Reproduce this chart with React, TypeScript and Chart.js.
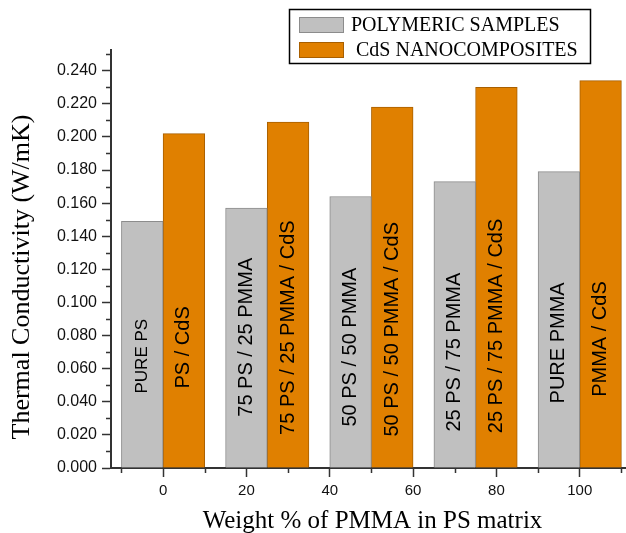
import React, { useEffect, useRef } from "react";
import { Chart, registerables } from "chart.js";

Chart.register(...registerables);

// ---- data ----
const groupPositions = [0, 25, 50, 75, 100];
const polymericValues = [0.149, 0.157, 0.164, 0.173, 0.179];
const cdsValues = [0.202, 0.209, 0.218, 0.23, 0.234];
const polymericLabels = ["PURE PS", "75 PS / 25 PMMA", "50 PS / 50 PMMA", "25 PS / 75 PMMA", "PURE PMMA"];
const cdsLabels = ["PS / CdS", "75 PS / 25 PMMA / CdS", "50 PS / 50 PMMA / CdS", "25 PS / 75 PMMA / CdS", "PMMA / CdS"];
const seriesNames = ["POLYMERIC SAMPLES", "CdS NANOCOMPOSITES"];
const xTickValues = [0, 20, 40, 60, 80, 100];
const yTickValues = [0, 0.02, 0.04, 0.06, 0.08, 0.1, 0.12, 0.14, 0.16, 0.18, 0.2, 0.22, 0.24];
const xTitle = "Weight % of PMMA in PS matrix";
const yTitle = "Thermal Conductivity (W/mK)";

// ---- styles ----
const GRAY = "#c0c0c0";
const ORANGE = "#e08000";
const AXIS = "#333333";
const SANS = "'Liberation Sans', Arial, sans-serif";
const SERIF = "'Liberation Serif', 'Times New Roman', serif";

// label placement (where the rotated text begins, in axis value units) and font sizes
const labelStyle = [
  { starts: [0.045, 0.031, 0.025, 0.022, 0.039], sizes: [17, 20, 20, 20, 20] },
  { starts: [0.048, 0.02, 0.019, 0.021, 0.043], sizes: [20, 20, 20, 20, 20] },
];

const decorPlugin = {
  id: "decor",
  afterDatasetsDraw(chart: any) {
    const ctx = chart.ctx;
    const yS = chart.scales.y;
    ctx.save();
    ctx.fillStyle = "#000";
    ctx.textAlign = "left";
    ctx.textBaseline = "middle";
    chart.data.datasets.forEach((ds: any, di: number) => {
      const meta = chart.getDatasetMeta(di);
      meta.data.forEach((el: any, i: number) => {
        const text = ds.barLabels[i];
        const st = labelStyle[di];
        ctx.save();
        ctx.font = `${st.sizes[i]}px ${SANS}`;
        ctx.translate(el.x, yS.getPixelForValue(st.starts[i]));
        ctx.rotate(-Math.PI / 2);
        ctx.fillText(text, 0, 0);
        ctx.restore();
      });
    });
    ctx.restore();
  },
  afterDraw(chart: any) {
    const ctx = chart.ctx;
    const xS = chart.scales.x;
    const yS = chart.scales.y;
    const area = chart.chartArea;
    ctx.save();
    // minor ticks
    ctx.strokeStyle = AXIS;
    ctx.lineWidth = 1.5;
    ctx.beginPath();
    for (let v = 0.01; v <= yS.max + 1e-9; v += 0.02) {
      const py = Math.round(yS.getPixelForValue(v)) + 0.5;
      ctx.moveTo(area.left - 5, py);
      ctx.lineTo(area.left, py);
    }
    for (let v = -10; v <= xS.max; v += 20) {
      const px = Math.round(xS.getPixelForValue(v)) + 0.5;
      ctx.moveTo(px, area.bottom);
      ctx.lineTo(px, area.bottom + 5);
    }
    ctx.stroke();

    // axis titles
    ctx.fillStyle = "#000";
    ctx.font = `25px ${SERIF}`;
    ctx.textAlign = "center";
    ctx.textBaseline = "alphabetic";
    ctx.fillText(xTitle, (area.left + area.right) / 2 + 4, 528);
    ctx.save();
    ctx.font = `26px ${SERIF}`;
    ctx.translate(29, 277);
    ctx.rotate(-Math.PI / 2);
    ctx.fillText(yTitle, 0, 0);
    ctx.restore();

    // legend
    ctx.lineWidth = 1.5;
    ctx.strokeStyle = "#000";
    ctx.strokeRect(289.5, 9.5, 301, 54);
    const rows = [25, 50];
    const textX = [351, 356];
    chart.data.datasets.forEach((ds: any, di: number) => {
      const cy = rows[di];
      ctx.fillStyle = ds.backgroundColor;
      ctx.fillRect(299, cy - 8, 45, 16);
      ctx.lineWidth = 1;
      ctx.strokeStyle = ds.borderColor;
      ctx.strokeRect(299.5, cy - 7.5, 44, 15);
      ctx.fillStyle = "#000";
      ctx.font = `20px ${SERIF}`;
      ctx.textAlign = "left";
      ctx.textBaseline = "middle";
      ctx.fillText(ds.label, textX[di], cy + 1);
    });
    ctx.restore();
  },
};

export default function App() {
  const ref = useRef<HTMLCanvasElement | null>(null);
  useEffect(() => {
    if (!ref.current) return;
    const chart = new Chart(ref.current, {
      type: "bar",
      data: {
        datasets: [
          {
            label: seriesNames[0],
            data: groupPositions.map((x, i) => ({ x, y: polymericValues[i] })),
            backgroundColor: GRAY,
            borderColor: "#8c8c8c",
            borderWidth: 1,
            barLabels: polymericLabels,
          } as any,
          {
            label: seriesNames[1],
            data: groupPositions.map((x, i) => ({ x, y: cdsValues[i] })),
            backgroundColor: ORANGE,
            borderColor: "#a85f00",
            borderWidth: 1,
            barLabels: cdsLabels,
          } as any,
        ],
      },
      options: {
        responsive: false,
        animation: false,
        categoryPercentage: 1,
        barPercentage: 1,
        layout: { padding: { top: 50, right: 0, left: 0, bottom: 0 } },
        plugins: { legend: { display: false }, tooltip: { enabled: false } },
        scales: {
          x: {
            type: "linear",
            min: -12.5,
            max: 111.1,
            offset: false,
            grid: {
              display: true,
              drawOnChartArea: false,
              drawTicks: true,
              tickLength: 9,
              tickColor: AXIS,
              tickWidth: 1.5,
              offset: false,
            },
            border: { display: true, color: AXIS, width: 2 },
            ticks: {
              autoSkip: false,
              maxRotation: 0,
              padding: 5,
              color: "#111",
              font: { family: SANS, size: 15 },
              callback: (v: any) => String(v),
            },
            afterBuildTicks: (s: any) => {
              s.ticks = xTickValues.map((v) => ({ value: v }));
            },
            afterFit: (s: any) => {
              s.height = 65;
            },
          } as any,
          y: {
            type: "linear",
            min: 0,
            max: 0.2525,
            grid: {
              display: true,
              drawOnChartArea: false,
              drawTicks: true,
              tickLength: 9,
              tickColor: AXIS,
              tickWidth: 1.5,
            },
            border: { display: true, color: AXIS, width: 2 },
            ticks: {
              autoSkip: false,
              padding: 5,
              color: "#111",
              font: { family: SANS, size: 16 },
              callback: (v: any) => Number(v).toFixed(3),
            },
            afterBuildTicks: (s: any) => {
              s.ticks = yTickValues.map((v) => ({ value: v }));
            },
            afterFit: (s: any) => {
              s.width = 111;
            },
          } as any,
        },
      },
      plugins: [decorPlugin],
    });
    return () => chart.destroy();
  }, []);

  return (
    <div style={{ position: "fixed", left: 0, top: 0, width: 626, height: 533, background: "#fff" }}>
      <canvas ref={ref} width={626} height={533} style={{ display: "block" }} />
    </div>
  );
}
